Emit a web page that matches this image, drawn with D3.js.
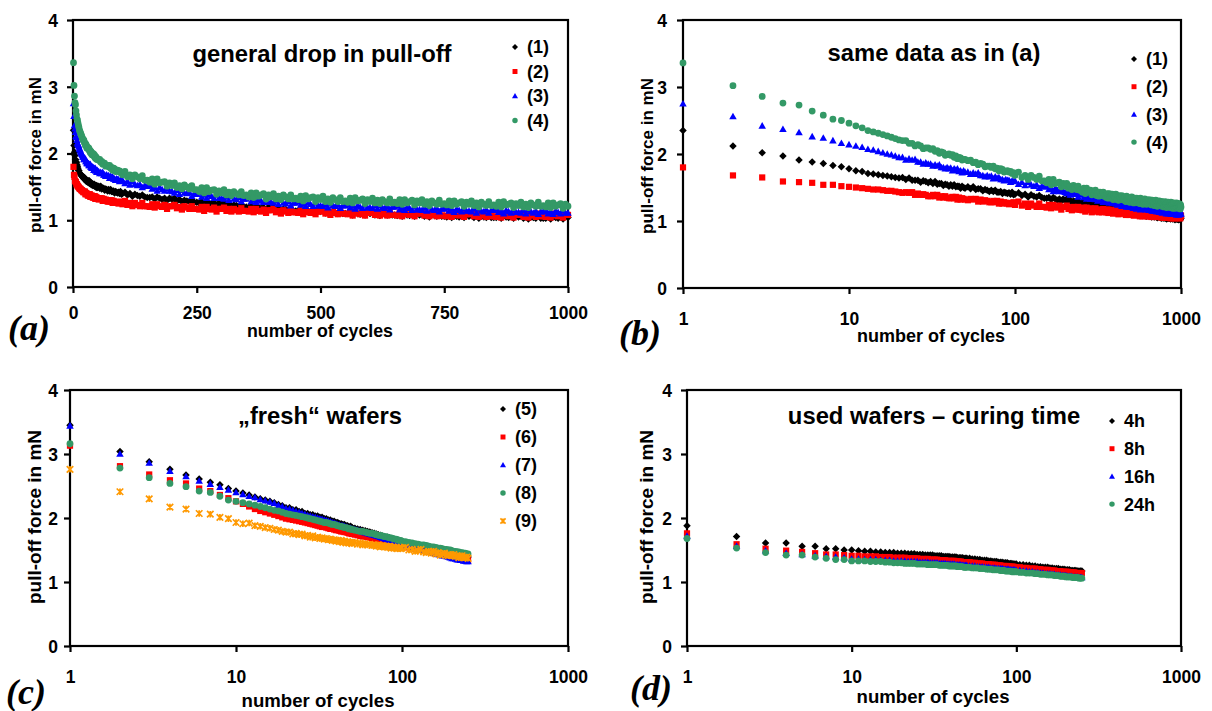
<!DOCTYPE html>
<html>
<head>
<meta charset="utf-8">
<script src="https://cdn.jsdelivr.net/npm/d3@7/dist/d3.min.js"></script>
<style>
  body { margin: 0; background: #fff; }
  svg { display: block; }
</style>
</head>
<body>
<svg id="fig" width="1212" height="711"></svg>
<script>
// ---------- cycle numbers at which the pull-off force was recorded ----------
const cyclesLong = [
  1,2,3,4,5,6,7,8,9,10,11,12,13,14,15,16,17,18,19,20,
  21,22,23,24,25,26,27,28,29,30,31,32,33,34,35,36,37,38,39,40,
  41,42,43,44,45,46,47,48,49,50,
  52,54,56,58,60,62,64,66,68,70,72,74,76,78,80,82,84,86,88,90,92,94,96,98,100,
  105,110,115,120,125,130,135,140,145,150,155,160,165,170,175,180,185,190,195,200,
  205,210,215,220,225,230,235,240,245,250,255,260,265,270,275,280,285,290,295,300,
  305,310,315,320,325,330,335,340,345,350,355,360,365,370,375,380,385,390,395,400,
  405,410,415,420,425,430,435,440,445,450,455,460,465,470,475,480,485,490,495,500,
  505,510,515,520,525,530,535,540,545,550,555,560,565,570,575,580,585,590,595,600,
  605,610,615,620,625,630,635,640,645,650,655,660,665,670,675,680,685,690,695,700,
  705,710,715,720,725,730,735,740,745,750,755,760,765,770,775,780,785,790,795,800,
  805,810,815,820,825,830,835,840,845,850,855,860,865,870,875,880,885,890,895,900,
  905,910,915,920,925,930,935,940,945,950,955,960,965,970,975,980,985,990,995,1000
];
const cyclesShort = [
  1,2,3,4,5,6,7,8,9,10,11,12,13,14,15,16,17,18,19,20,
  21,22,23,24,25,26,27,28,29,30,31,32,33,34,35,36,37,38,39,40,
  41,42,43,44,45,46,47,48,49,50,
  52,54,56,58,60,62,64,66,68,70,72,74,76,78,80,82,84,86,88,90,92,94,96,98,100,
  105,110,115,120,125,130,135,140,145,150,155,160,165,170,175,180,185,190,195,200,
  205,210,215,220,225,230,235,240,245,250
];

// ---------- samples (1)-(4): pull-off force in mN ----------
const force1 = [
  2.35,2.12,2.02,1.97,1.91,1.88,1.86,1.83,1.81,1.78,1.75,1.74,1.71,1.70,1.69,1.68,1.67,1.66,1.65,1.64,
  1.65,1.62,1.64,1.61,1.61,1.61,1.58,1.60,1.59,1.57,1.59,1.56,1.59,1.55,1.56,1.56,1.53,1.55,1.54,1.52,
  1.54,1.52,1.54,1.51,1.52,1.52,1.49,1.52,1.50,1.49,
  1.51,1.48,1.51,1.47,1.48,1.48,1.45,1.47,1.46,1.44,1.46,1.44,1.46,1.43,1.43,1.44,1.41,1.43,1.42,1.41,1.42,1.40,1.43,1.39,1.40,
  1.42,1.38,1.40,1.36,1.39,1.37,1.36,1.38,1.35,1.34,1.34,1.35,1.32,1.35,1.33,1.31,1.33,1.30,1.33,1.31,
  1.33,1.29,1.31,1.28,1.30,1.29,1.28,1.30,1.27,1.27,1.26,1.28,1.25,1.28,1.26,1.24,1.26,1.23,1.26,1.24,
  1.26,1.22,1.24,1.21,1.23,1.22,1.21,1.23,1.20,1.20,1.19,1.21,1.18,1.21,1.19,1.18,1.19,1.16,1.20,1.18,
  1.19,1.16,1.18,1.14,1.17,1.16,1.15,1.17,1.14,1.14,1.14,1.15,1.12,1.16,1.14,1.12,1.14,1.11,1.15,1.13,
  1.14,1.11,1.13,1.10,1.13,1.11,1.10,1.13,1.10,1.10,1.10,1.11,1.08,1.12,1.10,1.09,1.11,1.08,1.12,1.10,
  1.11,1.08,1.10,1.07,1.10,1.09,1.08,1.11,1.08,1.08,1.07,1.09,1.06,1.10,1.08,1.07,1.09,1.06,1.10,1.08,
  1.09,1.06,1.08,1.05,1.08,1.07,1.06,1.09,1.06,1.06,1.05,1.07,1.04,1.08,1.06,1.05,1.07,1.04,1.08,1.06,
  1.07,1.04,1.06,1.03,1.06,1.05,1.04,1.07,1.04,1.04,1.04,1.06,1.03,1.07,1.05,1.04,1.06,1.03,1.07,1.05,
  1.06,1.03,1.05,1.02,1.05,1.04,1.03,1.06,1.03,1.03,1.03,1.05,1.02,1.06,1.04,1.03,1.05,1.02,1.06,1.04
];
const force2 = [
  1.80,1.68,1.65,1.59,1.58,1.57,1.54,1.54,1.52,1.51,1.50,1.49,1.48,1.47,1.47,1.46,1.45,1.45,1.44,1.43,
  1.42,1.43,1.42,1.43,1.39,1.41,1.39,1.40,1.39,1.37,1.37,1.39,1.37,1.39,1.35,1.37,1.35,1.37,1.35,1.34,
  1.34,1.36,1.34,1.36,1.32,1.35,1.32,1.34,1.33,1.32,
  1.31,1.33,1.32,1.33,1.29,1.32,1.29,1.31,1.30,1.28,1.28,1.30,1.28,1.30,1.26,1.29,1.26,1.28,1.27,1.26,1.25,1.27,1.26,1.28,1.24,
  1.29,1.23,1.26,1.21,1.26,1.23,1.21,1.26,1.21,1.21,1.20,1.24,1.19,1.24,1.21,1.20,1.23,1.17,1.21,1.21,
  1.23,1.18,1.20,1.16,1.21,1.19,1.17,1.21,1.17,1.17,1.16,1.20,1.14,1.20,1.17,1.16,1.19,1.13,1.17,1.17,
  1.19,1.14,1.17,1.13,1.17,1.15,1.13,1.18,1.14,1.14,1.13,1.17,1.12,1.17,1.14,1.13,1.16,1.11,1.15,1.15,
  1.17,1.12,1.14,1.10,1.15,1.13,1.11,1.16,1.12,1.12,1.11,1.15,1.09,1.15,1.12,1.11,1.14,1.09,1.13,1.13,
  1.15,1.10,1.12,1.08,1.13,1.11,1.09,1.14,1.10,1.10,1.09,1.13,1.07,1.13,1.10,1.09,1.12,1.07,1.11,1.11,
  1.13,1.08,1.11,1.07,1.12,1.09,1.07,1.12,1.08,1.08,1.07,1.11,1.06,1.12,1.09,1.08,1.11,1.06,1.10,1.10,
  1.12,1.07,1.10,1.06,1.11,1.08,1.06,1.11,1.07,1.07,1.06,1.10,1.05,1.11,1.08,1.07,1.10,1.05,1.09,1.09,
  1.11,1.06,1.09,1.05,1.10,1.07,1.05,1.10,1.06,1.06,1.05,1.09,1.04,1.10,1.07,1.06,1.09,1.04,1.08,1.08,
  1.10,1.05,1.08,1.04,1.09,1.07,1.05,1.10,1.06,1.06,1.05,1.09,1.04,1.10,1.07,1.06,1.09,1.04,1.08,1.08
];
const force3 = [
  2.75,2.56,2.42,2.37,2.32,2.26,2.24,2.20,2.16,2.14,2.12,2.10,2.07,2.06,2.04,2.02,2.00,1.99,1.97,1.95,
  1.95,1.91,1.93,1.91,1.92,1.88,1.88,1.85,1.87,1.85,1.85,1.82,1.84,1.82,1.84,1.80,1.80,1.78,1.80,1.78,
  1.79,1.75,1.78,1.76,1.78,1.74,1.75,1.72,1.75,1.73,
  1.73,1.70,1.72,1.70,1.72,1.68,1.68,1.66,1.68,1.66,1.67,1.63,1.66,1.64,1.65,1.62,1.62,1.60,1.62,1.61,1.61,1.58,1.60,1.59,1.60,
  1.55,1.58,1.53,1.58,1.54,1.52,1.54,1.49,1.52,1.51,1.52,1.47,1.49,1.44,1.49,1.46,1.44,1.48,1.44,1.43,
  1.41,1.45,1.39,1.45,1.41,1.40,1.42,1.36,1.40,1.39,1.41,1.35,1.38,1.33,1.38,1.36,1.33,1.38,1.33,1.33,
  1.32,1.35,1.30,1.36,1.32,1.31,1.34,1.28,1.32,1.32,1.34,1.28,1.31,1.27,1.31,1.29,1.27,1.31,1.27,1.27,
  1.26,1.29,1.24,1.30,1.26,1.25,1.28,1.22,1.26,1.26,1.28,1.23,1.25,1.21,1.26,1.24,1.21,1.26,1.22,1.22,
  1.21,1.24,1.19,1.25,1.22,1.21,1.23,1.18,1.22,1.22,1.24,1.19,1.22,1.17,1.22,1.20,1.18,1.23,1.19,1.19,
  1.18,1.22,1.17,1.22,1.19,1.18,1.21,1.16,1.20,1.20,1.22,1.16,1.19,1.15,1.20,1.18,1.15,1.20,1.16,1.16,
  1.15,1.19,1.14,1.20,1.16,1.15,1.18,1.13,1.17,1.17,1.19,1.14,1.17,1.12,1.17,1.15,1.13,1.18,1.14,1.14,
  1.13,1.17,1.11,1.17,1.14,1.13,1.16,1.11,1.15,1.15,1.17,1.12,1.14,1.10,1.15,1.13,1.11,1.16,1.12,1.12,
  1.11,1.15,1.10,1.16,1.13,1.11,1.14,1.09,1.13,1.13,1.15,1.10,1.13,1.09,1.14,1.12,1.10,1.15,1.11,1.11
];
const force4 = [
  3.36,3.02,2.86,2.76,2.73,2.64,2.58,2.52,2.50,2.46,2.42,2.39,2.35,2.33,2.31,2.29,2.27,2.25,2.23,2.21,
  2.20,2.20,2.16,2.16,2.12,2.14,2.12,2.08,2.09,2.09,2.07,2.08,2.04,2.05,2.01,2.03,2.02,1.98,1.99,2.00,
  1.98,1.99,1.95,1.97,1.93,1.95,1.94,1.91,1.92,1.92,
  1.90,1.91,1.87,1.88,1.84,1.86,1.85,1.81,1.82,1.82,1.80,1.82,1.78,1.79,1.75,1.78,1.77,1.73,1.74,1.75,1.73,1.74,1.71,1.72,1.68,
  1.73,1.65,1.68,1.62,1.68,1.65,1.62,1.67,1.60,1.60,1.57,1.62,1.54,1.62,1.56,1.57,1.58,1.51,1.56,1.52,
  1.56,1.49,1.52,1.47,1.53,1.50,1.47,1.52,1.46,1.46,1.43,1.49,1.41,1.49,1.43,1.45,1.46,1.39,1.44,1.41,
  1.46,1.38,1.42,1.37,1.43,1.40,1.38,1.43,1.37,1.38,1.35,1.41,1.34,1.41,1.36,1.38,1.40,1.32,1.38,1.35,
  1.40,1.32,1.36,1.31,1.38,1.35,1.32,1.38,1.32,1.33,1.31,1.36,1.29,1.37,1.32,1.34,1.35,1.28,1.34,1.31,
  1.36,1.28,1.32,1.27,1.34,1.31,1.28,1.34,1.28,1.29,1.27,1.33,1.26,1.34,1.29,1.30,1.32,1.25,1.31,1.28,
  1.33,1.26,1.30,1.25,1.31,1.28,1.26,1.32,1.26,1.27,1.25,1.31,1.24,1.31,1.26,1.28,1.30,1.23,1.29,1.26,
  1.31,1.24,1.28,1.22,1.29,1.26,1.24,1.30,1.24,1.25,1.23,1.29,1.22,1.29,1.24,1.26,1.28,1.21,1.27,1.24,
  1.29,1.22,1.26,1.20,1.27,1.24,1.22,1.28,1.22,1.23,1.21,1.27,1.20,1.28,1.23,1.24,1.26,1.19,1.25,1.22,
  1.27,1.20,1.24,1.19,1.26,1.23,1.21,1.27,1.21,1.22,1.20,1.26,1.19,1.26,1.21,1.23,1.25,1.18,1.24,1.21
];

// ---------- "fresh" wafers (5)-(9) ----------
const force5 = [
  3.45,3.04,2.88,2.76,2.67,2.61,2.56,2.52,2.46,2.42,2.39,2.36,2.33,2.30,2.28,2.26,2.24,2.21,2.19,2.16,
  2.16,2.13,2.13,2.10,2.10,2.07,2.07,2.05,2.05,2.03,2.03,2.01,2.01,1.99,1.99,1.97,1.97,1.95,1.95,1.93,
  1.93,1.91,1.91,1.90,1.90,1.88,1.88,1.86,1.87,1.85,
  1.84,1.83,1.82,1.81,1.80,1.79,1.78,1.77,1.76,1.75,1.74,1.73,1.72,1.71,1.70,1.70,1.69,1.68,1.67,1.66,1.66,1.65,1.64,1.63,1.62,
  1.61,1.60,1.59,1.58,1.57,1.56,1.55,1.54,1.53,1.52,1.51,1.50,1.50,1.49,1.48,1.47,1.47,1.46,1.45,1.45,
  1.44,1.44,1.43,1.42,1.42,1.41,1.41,1.40,1.40,1.39
];
const force6 = [
  3.13,2.81,2.68,2.59,2.54,2.46,2.42,2.36,2.31,2.26,2.22,2.18,2.14,2.11,2.09,2.07,2.05,2.03,2.01,1.99,
  1.98,1.97,1.96,1.95,1.94,1.93,1.92,1.91,1.90,1.89,1.88,1.87,1.86,1.86,1.85,1.84,1.83,1.83,1.82,1.81,
  1.81,1.80,1.79,1.79,1.78,1.78,1.77,1.76,1.76,1.75,
  1.74,1.73,1.72,1.71,1.71,1.70,1.69,1.68,1.67,1.67,1.66,1.65,1.64,1.64,1.63,1.62,1.62,1.61,1.60,1.60,1.59,1.58,1.58,1.57,1.56,
  1.55,1.54,1.53,1.52,1.51,1.50,1.49,1.48,1.48,1.47,1.46,1.45,1.45,1.44,1.43,1.43,1.42,1.41,1.41,1.40,
  1.39,1.39,1.38,1.38,1.37,1.37,1.36,1.35,1.35,1.34
];
const force7 = [
  3.44,3.00,2.86,2.73,2.65,2.58,2.53,2.48,2.44,2.40,2.37,2.34,2.32,2.29,2.27,2.25,2.23,2.20,2.18,2.15,
  2.14,2.12,2.10,2.09,2.07,2.06,2.04,2.03,2.02,2.01,2.00,1.99,1.98,1.97,1.96,1.95,1.94,1.93,1.92,1.91,
  1.90,1.89,1.88,1.88,1.87,1.86,1.85,1.84,1.84,1.83,
  1.82,1.81,1.80,1.78,1.77,1.76,1.75,1.74,1.73,1.72,1.71,1.70,1.69,1.68,1.67,1.66,1.65,1.64,1.63,1.62,1.61,1.60,1.59,1.58,1.57,
  1.56,1.55,1.54,1.52,1.51,1.50,1.49,1.48,1.47,1.46,1.45,1.44,1.43,1.42,1.41,1.41,1.40,1.39,1.38,1.37,
  1.37,1.36,1.35,1.35,1.34,1.34,1.33,1.33,1.32,1.32
];
const force8 = [
  3.16,2.78,2.63,2.54,2.49,2.42,2.40,2.34,2.28,2.26,2.24,2.22,2.20,2.18,2.16,2.14,2.12,2.11,2.09,2.07,
  2.06,2.05,2.04,2.03,2.02,2.01,2.00,1.99,1.98,1.97,1.96,1.95,1.94,1.93,1.93,1.92,1.91,1.90,1.90,1.89,
  1.88,1.87,1.87,1.86,1.85,1.85,1.84,1.83,1.83,1.82,
  1.81,1.80,1.79,1.79,1.78,1.77,1.76,1.76,1.75,1.74,1.73,1.73,1.72,1.71,1.71,1.70,1.69,1.69,1.68,1.67,1.67,1.66,1.65,1.65,1.64,
  1.63,1.62,1.61,1.60,1.59,1.58,1.58,1.57,1.56,1.55,1.55,1.54,1.53,1.53,1.52,1.51,1.51,1.50,1.50,1.49,
  1.48,1.48,1.47,1.47,1.46,1.46,1.45,1.45,1.44,1.44
];
const force9 = [
  2.76,2.41,2.30,2.17,2.14,2.07,2.06,2.01,1.99,1.93,1.91,1.92,1.88,1.87,1.85,1.84,1.82,1.81,1.79,1.78,
  1.78,1.75,1.76,1.74,1.75,1.72,1.73,1.70,1.72,1.69,1.70,1.68,1.69,1.67,1.68,1.66,1.67,1.65,1.66,1.64,
  1.65,1.63,1.65,1.62,1.64,1.61,1.63,1.61,1.62,1.60,
  1.62,1.59,1.61,1.58,1.60,1.58,1.59,1.57,1.58,1.56,1.58,1.55,1.57,1.55,1.56,1.54,1.56,1.53,1.55,1.53,1.54,1.52,1.54,1.52,1.53,
  1.54,1.50,1.51,1.48,1.49,1.51,1.47,1.46,1.48,1.45,1.48,1.44,1.46,1.42,1.44,1.45,1.42,1.41,1.43,1.41,
  1.43,1.40,1.41,1.38,1.40,1.41,1.38,1.38,1.39,1.37
];

// ---------- used wafers, different curing times ----------
const force4h = [
  1.88,1.71,1.61,1.61,1.56,1.56,1.52,1.52,1.50,1.50,1.49,1.48,1.48,1.47,1.47,1.46,1.46,1.46,1.45,1.45,
  1.45,1.44,1.44,1.44,1.43,1.43,1.43,1.42,1.42,1.42,1.42,1.41,1.41,1.41,1.41,1.40,1.40,1.40,1.40,1.39,
  1.39,1.39,1.39,1.38,1.38,1.38,1.38,1.37,1.37,1.37,
  1.37,1.36,1.36,1.35,1.35,1.34,1.34,1.34,1.33,1.33,1.32,1.32,1.32,1.31,1.31,1.31,1.30,1.30,1.30,1.29,1.29,1.29,1.28,1.28,1.28,
  1.27,1.27,1.26,1.26,1.25,1.25,1.24,1.24,1.23,1.23,1.23,1.22,1.22,1.21,1.21,1.21,1.20,1.20,1.20,1.19,
  1.19,1.19,1.18,1.18,1.18,1.18,1.17,1.17,1.17,1.17
];
const force8h = [
  1.76,1.59,1.52,1.49,1.47,1.45,1.43,1.43,1.42,1.41,1.41,1.40,1.40,1.40,1.39,1.39,1.39,1.38,1.38,1.38,
  1.38,1.37,1.37,1.37,1.37,1.36,1.36,1.36,1.36,1.35,1.35,1.35,1.35,1.34,1.34,1.34,1.34,1.33,1.33,1.33,
  1.33,1.33,1.32,1.32,1.32,1.32,1.31,1.31,1.31,1.31,
  1.31,1.30,1.30,1.29,1.29,1.29,1.28,1.28,1.28,1.27,1.27,1.27,1.26,1.26,1.26,1.25,1.25,1.25,1.25,1.24,1.24,1.24,1.24,1.23,1.23,
  1.23,1.22,1.22,1.21,1.21,1.21,1.20,1.20,1.19,1.19,1.19,1.18,1.18,1.18,1.17,1.17,1.17,1.16,1.16,1.16,
  1.16,1.15,1.15,1.15,1.15,1.14,1.14,1.14,1.14,1.14
];
const force16h = [
  1.72,1.56,1.49,1.45,1.43,1.41,1.40,1.39,1.38,1.36,1.36,1.35,1.35,1.35,1.34,1.34,1.34,1.33,1.33,1.33,
  1.33,1.32,1.32,1.32,1.32,1.31,1.31,1.31,1.31,1.30,1.30,1.30,1.30,1.29,1.29,1.29,1.29,1.28,1.28,1.28,
  1.28,1.28,1.27,1.27,1.27,1.27,1.26,1.26,1.26,1.26,
  1.25,1.25,1.25,1.24,1.24,1.24,1.23,1.23,1.23,1.22,1.22,1.22,1.21,1.21,1.21,1.21,1.20,1.20,1.20,1.20,1.19,1.19,1.19,1.19,1.18,
  1.18,1.17,1.17,1.16,1.16,1.15,1.15,1.14,1.14,1.13,1.13,1.13,1.12,1.12,1.11,1.11,1.11,1.10,1.10,1.10,
  1.09,1.09,1.09,1.08,1.08,1.08,1.08,1.07,1.07,1.07
];
const force24h = [
  1.68,1.53,1.46,1.42,1.42,1.39,1.37,1.35,1.35,1.33,1.33,1.33,1.32,1.32,1.32,1.31,1.31,1.30,1.30,1.30,
  1.29,1.29,1.29,1.29,1.28,1.28,1.28,1.28,1.27,1.27,1.27,1.27,1.27,1.26,1.26,1.26,1.26,1.26,1.25,1.25,
  1.25,1.25,1.25,1.24,1.24,1.24,1.24,1.23,1.23,1.23,
  1.23,1.22,1.22,1.22,1.21,1.21,1.21,1.20,1.20,1.20,1.19,1.19,1.19,1.19,1.18,1.18,1.18,1.17,1.17,1.17,1.17,1.16,1.16,1.16,1.16,
  1.15,1.15,1.14,1.14,1.14,1.13,1.13,1.12,1.12,1.12,1.11,1.11,1.11,1.10,1.10,1.10,1.09,1.09,1.09,1.08,
  1.08,1.08,1.08,1.07,1.07,1.07,1.07,1.06,1.06,1.06
];

// ---------- labels ----------
const labelsAB = ["(1)", "(2)", "(3)", "(4)"];
const labelsC = ["(5)", "(6)", "(7)", "(8)", "(9)"];
const labelsD = ["4h", "8h", "16h", "24h"];
const yTicks = [0, 1, 2, 3, 4];
const xTicksLinear = [0, 250, 500, 750, 1000];
const xTicksLog = [1, 10, 100, 1000];

// ---------- drawing ----------
const SANS = "'Liberation Sans', Arial, Helvetica, sans-serif";
const SERIF = "'Liberation Serif', 'Times New Roman', serif";
const COL = { black: "#000000", red: "#ff0000", blue: "#0000ff", green: "#339966", orange: "#ff9900" };

const svg = d3.select("#fig");
svg.append("rect").attr("width", 1212).attr("height", 711).attr("fill", "#fff");

function markerPath(type, s) {
  const h = s / 2;
  switch (type) {
    case "diamond": return `M0,${-h}L${h},0L0,${h}L${-h},0Z`;
    case "square": return `M${-h},${-h}H${h}V${h}H${-h}Z`;
    case "triangle": return `M0,${-h}L${h},${h * 0.75}L${-h},${h * 0.75}Z`;
    case "circle": return d3.symbol(d3.symbolCircle, Math.PI * h * h)();
    case "star": return `M${-h},${-h}L${h},${h}M${h},${-h}L${-h},${h}M0,${-h}L0,${h}`;
  }
}
function styleMarker(sel, s) {
  if (s.shape === "star") {
    sel.attr("fill", "none").attr("stroke", s.color).attr("stroke-width", 1.7);
  } else {
    sel.attr("fill", s.color).attr("stroke", "none");
  }
}

function drawPanel(p) {
  const x = p.log
    ? d3.scaleLog().domain([1, 1000]).range([p.l, p.r])
    : d3.scaleLinear().domain([0, 1000]).range([p.l, p.r]);
  const y = d3.scaleLinear().domain([0, 4]).range([p.b, p.t]);
  const g = svg.append("g");

  // plot-area frame
  g.append("rect")
    .attr("x", p.l).attr("y", p.t)
    .attr("width", p.r - p.l).attr("height", p.b - p.t)
    .attr("fill", "none").attr("stroke", "#000").attr("stroke-width", 2.2);

  // x axis
  const xa = g.append("g").attr("transform", `translate(0,${p.b})`)
    .call(d3.axisBottom(x).tickValues(p.log ? xTicksLog : xTicksLinear)
      .tickFormat(d3.format("d")).tickSize(6).tickSizeOuter(0));
  xa.select(".domain").remove();
  xa.selectAll(".tick line").attr("stroke-width", 2.2);
  xa.selectAll(".tick text")
    .attr("y", p.xLabOff).attr("dy", "0.36em")
    .style("font", `bold 17.5px ${SANS}`).attr("fill", "#000");

  // y axis
  const ya = g.append("g").attr("transform", `translate(${p.l},0)`)
    .call(d3.axisLeft(y).tickValues(yTicks).tickFormat(d3.format("d"))
      .tickSize(6).tickSizeOuter(0));
  ya.select(".domain").remove();
  ya.selectAll(".tick line").attr("stroke-width", 2.2);
  ya.selectAll(".tick text")
    .attr("x", -p.yLabOff).attr("dy", "0.36em")
    .style("font", `bold 17.5px ${SANS}`).attr("fill", "#000");

  // series markers
  p.series.forEach(s => {
    const pts = p.cycles.map((c, i) => [c, s.values[i]]);
    g.append("g").selectAll("path").data(pts).join("path")
      .attr("transform", d => `translate(${x(d[0])},${y(d[1])})`)
      .attr("d", markerPath(s.shape, s.size))
      .call(styleMarker, s);
  });

  // axis titles
  g.append("text")
    .attr("x", p.xTitle[0]).attr("y", p.xTitle[1]).attr("dy", "0.36em")
    .attr("text-anchor", "middle")
    .style("font", `bold ${p.xTitle[2]}px ${SANS}`).text("number of cycles");
  g.append("text")
    .attr("transform", `translate(${p.yTitle[0]},${p.yTitle[1]}) rotate(-90)`)
    .attr("dy", "0.36em").attr("text-anchor", "middle")
    .style("font", `bold ${p.yTitle[2]}px ${SANS}`).text("pull-off force in mN");

  // panel heading
  g.append("text")
    .attr("x", p.title[0]).attr("y", p.title[1])
    .attr("text-anchor", "middle")
    .style("font", `bold 23.8px ${SANS}`).text(p.title[2]);

  // legend
  p.series.forEach((s, i) => {
    const yy = p.legend.y0 + i * p.legend.dy;
    g.append("path")
      .attr("transform", `translate(${p.legend.x},${yy})`)
      .attr("d", markerPath(s.shape, s.size * 0.8))
      .call(styleMarker, s);
    g.append("text")
      .attr("x", p.legend.x + 12).attr("y", yy).attr("dy", "0.36em")
      .style("font", `bold 18px ${SANS}`).text(s.label);
  });

  // panel letter
  g.append("text")
    .attr("x", p.letter[0]).attr("y", p.letter[1])
    .style("font", `italic bold 36px ${SERIF}`).text(p.letter[2]);
}

const seriesAB = [
  { label: labelsAB[0], values: force1, shape: "diamond", color: COL.black, size: 7.5 },
  { label: labelsAB[1], values: force2, shape: "square", color: COL.red, size: 6.2 },
  { label: labelsAB[2], values: force3, shape: "triangle", color: COL.blue, size: 7.5 },
  { label: labelsAB[3], values: force4, shape: "circle", color: COL.green, size: 6.8 }
];
const seriesC = [
  { label: labelsC[0], values: force5, shape: "diamond", color: COL.black, size: 7.5 },
  { label: labelsC[1], values: force6, shape: "square", color: COL.red, size: 6.2 },
  { label: labelsC[2], values: force7, shape: "triangle", color: COL.blue, size: 7.5 },
  { label: labelsC[3], values: force8, shape: "circle", color: COL.green, size: 6.8 },
  { label: labelsC[4], values: force9, shape: "star", color: COL.orange, size: 6.5 }
];
const seriesD = [
  { label: labelsD[0], values: force4h, shape: "diamond", color: COL.black, size: 7.5 },
  { label: labelsD[1], values: force8h, shape: "square", color: COL.red, size: 6.2 },
  { label: labelsD[2], values: force16h, shape: "triangle", color: COL.blue, size: 7.5 },
  { label: labelsD[3], values: force24h, shape: "circle", color: COL.green, size: 6.8 }
];

drawPanel({
  l: 73, r: 568, t: 20, b: 287, log: false, cycles: cyclesLong, series: seriesAB,
  xLabOff: 26, yLabOff: 15, xTitle: [320, 331, 17.75], yTitle: [35, 155, 17],
  title: [322, 62, "general drop in pull-off"],
  legend: { x: 515, y0: 47, dy: 24.5 }, letter: [8, 340, "(a)"]
});
drawPanel({
  l: 683, r: 1181, t: 20, b: 288, log: true, cycles: cyclesLong, series: seriesAB,
  xLabOff: 31, yLabOff: 16, xTitle: [931, 336, 18], yTitle: [647, 156, 17],
  title: [934, 61, "same data as in (a)"],
  legend: { x: 1134, y0: 59, dy: 27.7 }, letter: [619, 345, "(b)"]
});
drawPanel({
  l: 70, r: 568, t: 390, b: 646, log: true, cycles: cyclesShort, series: seriesC,
  xLabOff: 31, yLabOff: 12, xTitle: [318, 700, 18.6], yTitle: [34, 517, 19],
  title: [320, 424, "\u201Efresh\u201C wafers"],
  legend: { x: 503, y0: 409, dy: 28 }, letter: [6, 704, "(c)"]
});
drawPanel({
  l: 687, r: 1181, t: 390, b: 646, log: true, cycles: cyclesShort, series: seriesD,
  xLabOff: 31, yLabOff: 15, xTitle: [933, 696, 18.6], yTitle: [646, 517, 19],
  title: [934, 424, "used wafers \u2013 curing time"],
  legend: { x: 1112, y0: 421, dy: 27.7 }, letter: [630, 700, "(d)"]
});
</script>
</body>
</html>
